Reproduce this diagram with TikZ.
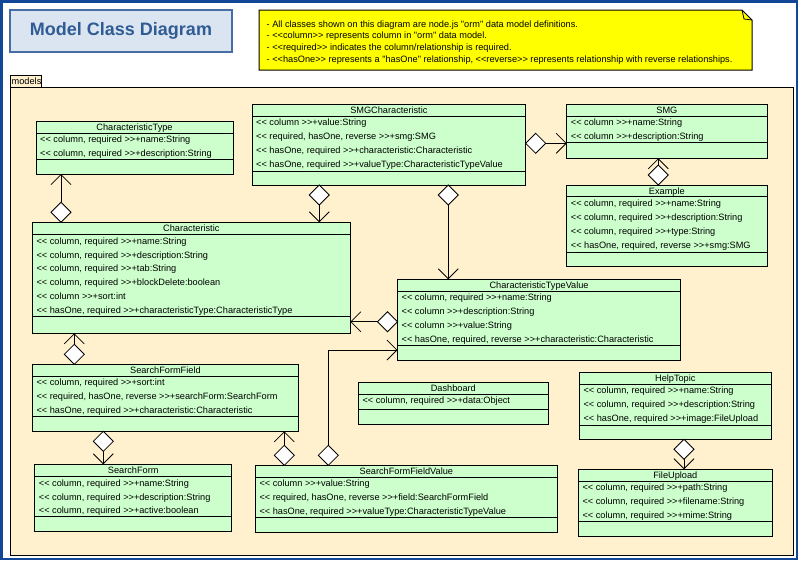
\documentclass[tikz,border=0pt]{standalone}
\usepackage{fontspec}
\setmainfont{Liberation Sans}[Ligatures=TeXOff]
\usetikzlibrary{arrows.meta,shapes.geometric}

\definecolor{frameblue}{RGB}{18,70,150}
\definecolor{titlefill}{RGB}{219,229,241}
\definecolor{titleedge}{RGB}{70,110,165}
\definecolor{titleink}{RGB}{48,92,148}
\definecolor{notefill}{RGB}{255,255,0}
\definecolor{pkgfill}{RGB}{255,240,206}
\definecolor{classfill}{RGB}{204,255,204}

\newcommand{\umlfont}{\fontsize{9.2}{11}\selectfont}

\tikzset{
  classbox/.style={draw=black, fill=classfill, line width=1pt, inner sep=0pt, outer sep=0pt},
  classrule/.style={draw=black, line width=1pt},
  classtext/.style={font=\umlfont, inner sep=0pt, text=black},
  dia/.style={diamond, draw=black, fill=white, line width=0.8pt,
    minimum width=20pt, minimum height=20pt, inner sep=0pt, outer sep=0pt},
  assoc/.style={draw=black, line width=0.8pt,
    -{Straight Barb[length=10pt,width=20pt]}},
  pkgbox/.style={draw=black, fill=pkgfill, line width=1pt},
  notebox/.style={draw=black, fill=notefill, line width=1pt},
  titlebox/.style={draw=titleedge, fill=titlefill, line width=1.2pt,
    text=titleink, font=\fontsize{18}{20}\selectfont\bfseries, inner sep=0pt},
}

% #1 name, #2 x1, #3 y1, #4 x2, #5 y2, #6 bottom of name row,
% #7 bottom of attribute row, #8 class name, #9 attribute lines
\newcommand{\umlclass}[9]{%
  \node[classbox, anchor=north west, minimum width={#4-#2}, minimum height={#5-#3}] (#1) at (#2,#3) {};
  \draw[classrule] (#2,#6) -- (#4,#6) (#2,#7) -- (#4,#7);
  \node[classtext, anchor=base] (#1-title) at ({(#2+#4)/2}, {(#3+#6)/2+3.2}) {#8};
  \foreach \attr [count=\k] in {#9} {
    \node[classtext, anchor=base west] (#1-attr\k) at ({#2+4}, {#6+9.6+(\k-1)*13.9}) {\attr};
  }%
}

\begin{document}
\begin{tikzpicture}[x=1pt,y=-1pt]
\useasboundingbox (0,0) rectangle (798,560);
\fill[white] (0,0) rectangle (798,560);
\draw[frameblue, line width=2.5pt] (1.25,1.25) rectangle (796.75,558.75);

% heading
\node[titlebox, minimum width=222pt, minimum height=42pt] (title) at (121,31) {Model Class Diagram};

% note with folded corner
\path[notebox] (259,10) -- (742,10) -- (752,20) -- (752,70) -- (259,70) -- cycle;
\draw[line width=0.8pt] (742,10) -- (744,19) -- (752,20);
\node[classtext, anchor=base west] (note1) at (266.5,27) {- All classes shown on this diagram are node.js "orm" data model definitions.};
\node[classtext, anchor=base west] (note2) at (266.5,38.8) {- <<column>> represents column in "orm" data model.};
\node[classtext, anchor=base west] (note3) at (266.5,50.6) {- <<required>> indicates the column/relationship is required.};
\node[classtext, anchor=base west] (note4) at (266.5,62.4) {- <<hasOne>> represents a "hasOne" relationship, <<reverse>> represents relationship with reverse relationships.};

% package
\path[pkgbox] (10,75) rectangle (41.6,87);
\path[pkgbox] (10,87) rectangle (793.5,555);
\node[classtext, anchor=base west] (pkgname) at (11.5,84.6) {models};

% classes
\umlclass{ct}{36}{121}{233}{174}{133}{159.5}{CharacteristicType}
  {{<< column, required >>+name:String},{<< column, required >>+description:String}}
\umlclass{smgc}{252}{104}{525.7}{185}{116}{171.5}{SMGCharacteristic}
  {{<< column >>+value:String},{<< required, hasOne, reverse >>+smg:SMG},{<< hasOne, required >>+characteristic:Characteristic},{<< hasOne, required >>+valueType:CharacteristicTypeValue}}
\umlclass{smg}{566.7}{104.3}{767}{158.3}{116}{142.5}{SMG}
  {{<< column >>+name:String},{<< column >>+description:String}}
\umlclass{ex}{566.7}{185}{767}{266}{196.7}{252}{Example}
  {{<< column, required >>+name:String},{<< column, required >>+description:String},{<< column, required >>+type:String},{<< hasOne, required, reverse >>+smg:SMG}}
\umlclass{chr}{32.3}{222.3}{350.3}{333.3}{234.5}{316.7}{Characteristic}
  {{<< column, required >>+name:String},{<< column, required >>+description:String},{<< column, required >>+tab:String},{<< column, required >>+blockDelete:boolean},{<< column >>+sort:int},{<< hasOne, required >>+characteristicType:CharacteristicType}}
\umlclass{ctv}{397.5}{279.3}{680.7}{360}{291}{345}{CharacteristicTypeValue}
  {{<< column, required >>+name:String},{<< column >>+description:String},{<< column >>+value:String},{<< hasOne, required, reverse >>+characteristic:Characteristic}}
\umlclass{sff}{32.3}{364.3}{298.5}{431.3}{376}{416.7}{SearchFormField}
  {{<< column, required >>+sort:int},{<< required, hasOne, reverse >>+searchForm:SearchForm},{<< hasOne, required >>+characteristic:Characteristic}}
\umlclass{sf}{34.7}{464.3}{231.7}{531.7}{476.5}{516}{SearchForm}
  {{<< column, required >>+name:String},{<< column, required >>+description:String},{<< column, required >>+active:boolean}}
\umlclass{sffv}{255.3}{465.3}{557.5}{532.3}{477.3}{517}{SearchFormFieldValue}
  {{<< column >>+value:String},{<< required, hasOne, reverse >>+field:SearchFormField},{<< hasOne, required >>+valueType:CharacteristicTypeValue}}
\umlclass{dsh}{358.3}{382.3}{548.3}{424}{394.3}{409.3}{Dashboard}
  {{<< column, required >>+data:Object}}
\umlclass{ht}{579.3}{372.5}{771.3}{439.3}{384}{425}{HelpTopic}
  {{<< column, required >>+name:String},{<< column, required >>+description:String},{<< hasOne, required >>+image:FileUpload}}
\umlclass{fu}{578.3}{469.3}{772.3}{536.3}{481.3}{521.7}{FileUpload}
  {{<< column, required >>+path:String},{<< column, required >>+filename:String},{<< column, required >>+mime:String}}

% aggregation diamonds
\node[dia, anchor=south] (d1) at (61,222.3) {};
\node[dia, anchor=north] (d2) at (319.3,185) {};
\node[dia, anchor=north] (d3) at (448.3,185) {};
\node[dia, anchor=west] (d4) at (525.7,143.3) {};
\node[dia, anchor=south] (d5) at (658.3,185) {};
\node[dia, anchor=east] (d6) at (397.5,321.7) {};
\node[dia, anchor=south] (d7) at (74.3,364.3) {};
\node[dia, anchor=north] (d8) at (103.3,431.3) {};
\node[dia, anchor=south] (d9) at (284.3,465.3) {};
\node[dia, anchor=south] (d10) at (328.3,465.3) {};
\node[dia, anchor=north] (d11) at (684,439.3) {};

% associations
\draw[assoc] (d1.north) -- (d1.north |- ct.south);
\draw[assoc] (d2.south) -- (d2.south |- chr.north);
\draw[assoc] (d3.south) -- (d3.south |- ctv.north);
\draw[assoc] (d4.east) -- (d4.east -| smg.west);
\draw[assoc] (d5.north) -- (d5.north |- smg.south);
\draw[assoc] (d6.west) -- (d6.west -| chr.east);
\draw[assoc] (d7.north) -- (d7.north |- chr.south);
\draw[assoc] (d8.south) -- (d8.south |- sf.north);
\draw[assoc] (d9.north) -- (d9.north |- sff.south);
\draw[assoc] (d10.north) |- ([yshift=10pt]ctv.south west);
\draw[assoc] (d11.south) -- (d11.south |- fu.north);
\end{tikzpicture}
\end{document}
